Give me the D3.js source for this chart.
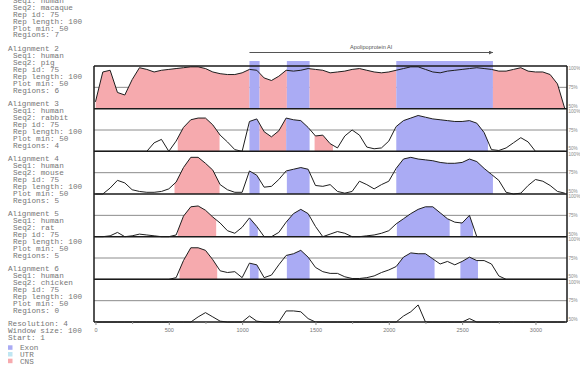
<!DOCTYPE html>
<html>
<head>
<meta charset="utf-8">
<script src="https://cdn.jsdelivr.net/npm/d3@7"></script>
<style>
  body { margin: 0; background: #fff; }
  svg { display: block; }
</style>
</head>
<body>
<script>
// sample positions (bp) shared by every alignment curve
const positions = [0, 50, 100, 150, 200, 250, 300, 350, 400, 450, 500, 550, 600, 650, 700, 750,
  800, 850, 900, 950, 1000, 1050, 1100, 1150, 1200, 1250, 1300, 1350, 1400, 1450, 1500, 1550,
  1600, 1650, 1700, 1750, 1800, 1850, 1900, 1950, 2000, 2050, 2100, 2150, 2200, 2250, 2300, 2350,
  2400, 2450, 2500, 2550, 2600, 2650, 2700, 2750, 2800, 2850, 2900, 2950, 3000, 3050, 3100, 3150, 3200];

// % identity, human vs each species
const macaque = [58, 93, 95, 69, 66, 84, 98, 96, 93, 95, 96, 97, 98, 99, 99, 97,
  93, 91, 90, 90, 92, 96, 95, 86, 83, 88, 95, 94, 95, 97, 96, 95,
  92, 93, 94, 96, 97, 95, 93, 92, 93, 95, 97, 99, 99, 96, 93, 92,
  94, 95, 96, 97, 98, 97, 96, 94, 94, 96, 98, 94, 93, 93, 90, 79, 50];
const pig = [50, 50, 50, 50, 50, 50, 50, 50, 60, 64, 50, 62, 78, 87, 89, 89,
  81, 69, 61, 52, 50, 85, 88, 73, 67, 74, 89, 87, 86, 78, 68, 69,
  59, 54, 68, 75, 69, 55, 53, 54, 62, 79, 86, 89, 92, 90, 88, 87,
  86, 85, 85, 86, 83, 72, 52, 51, 54, 60, 66, 61, 50, 50, 50, 50, 50];
const rabbit = [50, 50, 57, 66, 63, 55, 53, 52, 52, 53, 56, 64, 81, 93, 93, 86,
  78, 61, 55, 52, 52, 77, 72, 58, 59, 67, 77, 79, 81, 79, 60, 59,
  61, 53, 51, 53, 65, 61, 56, 61, 65, 80, 91, 93, 91, 90, 89, 87,
  86, 86, 87, 91, 88, 80, 73, 66, 52, 50, 51, 60, 67, 65, 60, 53, 51];
const mouse = [50, 50, 51, 55, 50, 51, 53, 52, 51, 50, 50, 52, 74, 85, 86, 81,
  73, 66, 57, 54, 61, 72, 62, 50, 50, 55, 67, 77, 82, 77, 62, 50,
  53, 56, 54, 50, 50, 51, 52, 54, 57, 65, 71, 77, 82, 85, 85, 78,
  71, 67, 66, 75, 50, 50, 50, 50, 50, 50, 50, 50, 50, 50, 50, 50, 50];
const rat = [50, 50, 50, 50, 50, 50, 50, 50, 50, 50, 50, 52, 72, 87, 87, 84,
  73, 60, 58, 59, 52, 69, 67, 52, 55, 67, 78, 80, 84, 76, 64, 59,
  57, 57, 53, 51, 51, 52, 54, 58, 61, 65, 76, 81, 80, 80, 74, 68,
  71, 67, 71, 76, 72, 72, 68, 54, 50, 50, 50, 50, 50, 50, 50, 50, 50];
const chicken = [50, 50, 50, 50, 50, 50, 50, 50, 50, 50, 50, 50, 50, 50, 56, 61,
  56, 51, 50, 50, 50, 57, 51, 50, 50, 50, 63, 63, 62, 54, 50, 50,
  50, 50, 50, 50, 50, 50, 50, 50, 50, 50, 57, 62, 70, 50, 50, 50,
  50, 50, 50, 54, 50, 50, 50, 50, 50, 50, 50, 50, 50, 50, 50, 50, 50];

// conserved regions [start, end, type]
const macaqueRegions = [[0, 1050, 'CNS'], [1050, 1119, 'Exon'], [1119, 1305, 'CNS'], [1305, 1460, 'Exon'],
  [1460, 2051, 'CNS'], [2051, 2710, 'Exon'], [2710, 3215, 'CNS']];
const pigRegions = [[561, 846, 'CNS'], [1050, 1119, 'Exon'], [1119, 1300, 'CNS'], [1300, 1460, 'Exon'],
  [1494, 1619, 'CNS'], [2051, 2676, 'Exon']];
const rabbitRegions = [[539, 846, 'CNS'], [1050, 1119, 'Exon'], [1305, 1460, 'Exon'], [2051, 2710, 'Exon']];
const mouseRegions = [[561, 823, 'CNS'], [1050, 1107, 'Exon'], [1305, 1460, 'Exon'], [2055, 2415, 'Exon'],
  [2488, 2574, 'Exon']];
const ratRegions = [[573, 830, 'CNS'], [1053, 1112, 'Exon'], [1305, 1460, 'Exon'], [2055, 2312, 'Exon'],
  [2488, 2608, 'Exon']];
const chickenRegions = [];

const species = ['macaque', 'pig', 'rabbit', 'mouse', 'rat', 'chicken'];
const regionCounts = [7, 6, 4, 5, 5, 0];
const majorTicks = [0, 500, 1000, 1500, 2000, 2500, 3000];
const minorTicks = [250, 750, 1250, 1750, 2250, 2750];
const pctLabels = ['100%', '75%', '50%'];
const legendItems = ['Exon', 'UTR', 'CNS'];
const gene = { name: 'Apolipoprotein AI', start: 1050, end: 2710 };
const footer = ['Resolution: 4', 'Window size: 100', 'Start: 1'];

const seriesList = [macaque, pig, rabbit, mouse, rat, chicken];
const regionList = [macaqueRegions, pigRegions, rabbitRegions, mouseRegions, ratRegions, chickenRegions];

const W = 580, H = 366;
const LEFT = 94, RIGHT = 567, TOP = 66, PANEL_H = 42.67;
const colors = { Exon: '#aaabf4', UTR: '#bfe6f2', CNS: '#f6aaae' };
const textColor = '#767676';
const mono = '"Liberation Mono", "DejaVu Sans Mono", monospace';

const svg = d3.select('body').append('svg').attr('width', W).attr('height', H);
const defs = svg.append('defs');

const x = d3.scaleLinear().domain([-10, 3215]).range([LEFT, RIGHT]);

// left info text
const lineH = 6.88;
const info = svg.append('g')
  .attr('font-family', mono)
  .attr('font-size', 7.7)
  .attr('fill', textColor);

species.forEach((sp, i) => {
  const y0 = -6.5 + i * 8 * lineH + 2.7;
  const lines = [
    [8, `Alignment ${i + 1}`],
    [13, 'Seq1: human'],
    [13, `Seq2: ${sp}`],
    [13, 'Rep id: 75'],
    [13, 'Rep length: 100'],
    [13, 'Plot min: 50'],
    [13, `Regions: ${regionCounts[i]}`]
  ];
  lines.forEach((l, j) => {
    info.append('text').attr('x', l[0]).attr('y', y0 + j * lineH).text(l[1]);
  });
});

footer.forEach((t, j) => {
  info.append('text').attr('x', 8).attr('y', 323.5 + j * lineH + 2.7).text(t);
});

legendItems.forEach((t, j) => {
  const cy = 347.5 + j * 6.7;
  svg.append('rect')
    .attr('x', 8).attr('y', cy - 2.2).attr('width', 4.5).attr('height', 4.5)
    .attr('fill', colors[t]);
  info.append('text').attr('x', 20).attr('y', cy + 2.7).text(t);
});

// gene annotation
const marker = defs.append('marker')
  .attr('id', 'arrow')
  .attr('viewBox', '0 0 10 10')
  .attr('refX', 10).attr('refY', 5)
  .attr('markerWidth', 4).attr('markerHeight', 4)
  .attr('orient', 'auto');
marker.append('path').attr('d', 'M0,0L10,5L0,10z').attr('fill', '#555');

svg.append('line')
  .attr('x1', x(gene.start)).attr('x2', x(gene.end))
  .attr('y1', 52.5).attr('y2', 52.5)
  .attr('stroke', '#555').attr('stroke-width', 1)
  .attr('marker-end', 'url(#arrow)');

svg.append('text')
  .attr('x', (x(gene.start) + x(gene.end)) / 2)
  .attr('y', 48.5)
  .attr('text-anchor', 'middle')
  .attr('font-family', 'Liberation Sans, Arial, sans-serif')
  .attr('font-size', 5.6)
  .attr('fill', '#555')
  .text(gene.name);

// panels
seriesList.forEach((vals, i) => {
  const top = TOP + i * PANEL_H;
  const bottom = top + PANEL_H;
  const y = d3.scaleLinear().domain([50, 100]).range([bottom, top]);
  const pts = positions.map((p, j) => [p, Math.max(50, vals[j])]);

  const area = d3.area()
    .x((d) => x(d[0]))
    .y0(bottom)
    .y1((d) => y(d[1]));
  const line = d3.line()
    .x((d) => x(d[0]))
    .y((d) => y(d[1]));

  // 75% gridline
  svg.append('line')
    .attr('x1', LEFT).attr('x2', RIGHT)
    .attr('y1', y(75)).attr('y2', y(75))
    .attr('stroke', '#8c8c8c').attr('stroke-width', 1);

  regionList[i].forEach((r, k) => {
    if (i === 0 && r[2] === 'Exon') {
      svg.append('rect')
        .attr('x', x(r[0])).attr('width', x(r[1]) - x(r[0]))
        .attr('y', top - 5).attr('height', PANEL_H + 5)
        .attr('fill', colors[r[2]]);
      return;
    }
    const id = `clip-${i}-${k}`;
    defs.append('clipPath').attr('id', id)
      .append('rect')
      .attr('x', x(r[0])).attr('width', x(r[1]) - x(r[0]))
      .attr('y', top).attr('height', PANEL_H);
    svg.append('path')
      .attr('d', area(pts))
      .attr('fill', colors[r[2]])
      .attr('clip-path', `url(#${id})`);
  });

  svg.append('path')
    .attr('d', line(pts))
    .attr('fill', 'none')
    .attr('stroke', '#1e1e1e')
    .attr('stroke-width', 1)
    .attr('stroke-linejoin', 'round');

  // percent labels on the right
  const ly = [top + 4.3, y(75) + 1.7, bottom - 1];
  pctLabels.forEach((t, j) => {
    svg.append('text')
      .attr('x', RIGHT + 1.5).attr('y', ly[j])
      .attr('font-family', 'Liberation Sans, Arial, sans-serif')
      .attr('font-size', 4.6)
      .attr('fill', '#8a8a8a')
      .text(t);
  });
});

// panel borders
const borders = svg.append('g').attr('stroke', '#1a1a1a').attr('stroke-width', 1.5);
d3.range(seriesList.length + 1).forEach((i) => {
  borders.append('line')
    .attr('x1', LEFT).attr('x2', RIGHT)
    .attr('y1', TOP + i * PANEL_H).attr('y2', TOP + i * PANEL_H);
});
[LEFT, RIGHT].forEach((vx) => {
  borders.append('line')
    .attr('x1', vx).attr('x2', vx)
    .attr('y1', TOP).attr('y2', TOP + seriesList.length * PANEL_H);
});

// x axis
const axisY = TOP + seriesList.length * PANEL_H;
const gAxis = svg.append('g')
  .attr('transform', `translate(0,${axisY})`)
  .call(d3.axisBottom(x).tickValues(majorTicks).tickSize(3).tickPadding(3).tickFormat(d3.format('d')));
gAxis.select('.domain').remove();
gAxis.selectAll('line').attr('stroke', '#888');
gAxis.selectAll('text')
  .attr('font-family', 'Liberation Sans, Arial, sans-serif')
  .attr('font-size', 5.5)
  .attr('fill', '#777');

const gMinor = svg.append('g')
  .attr('transform', `translate(0,${axisY})`)
  .call(d3.axisBottom(x).tickValues(minorTicks).tickSize(2).tickFormat(''));
gMinor.select('.domain').remove();
gMinor.selectAll('line').attr('stroke', '#999');
</script>
</body>
</html>
